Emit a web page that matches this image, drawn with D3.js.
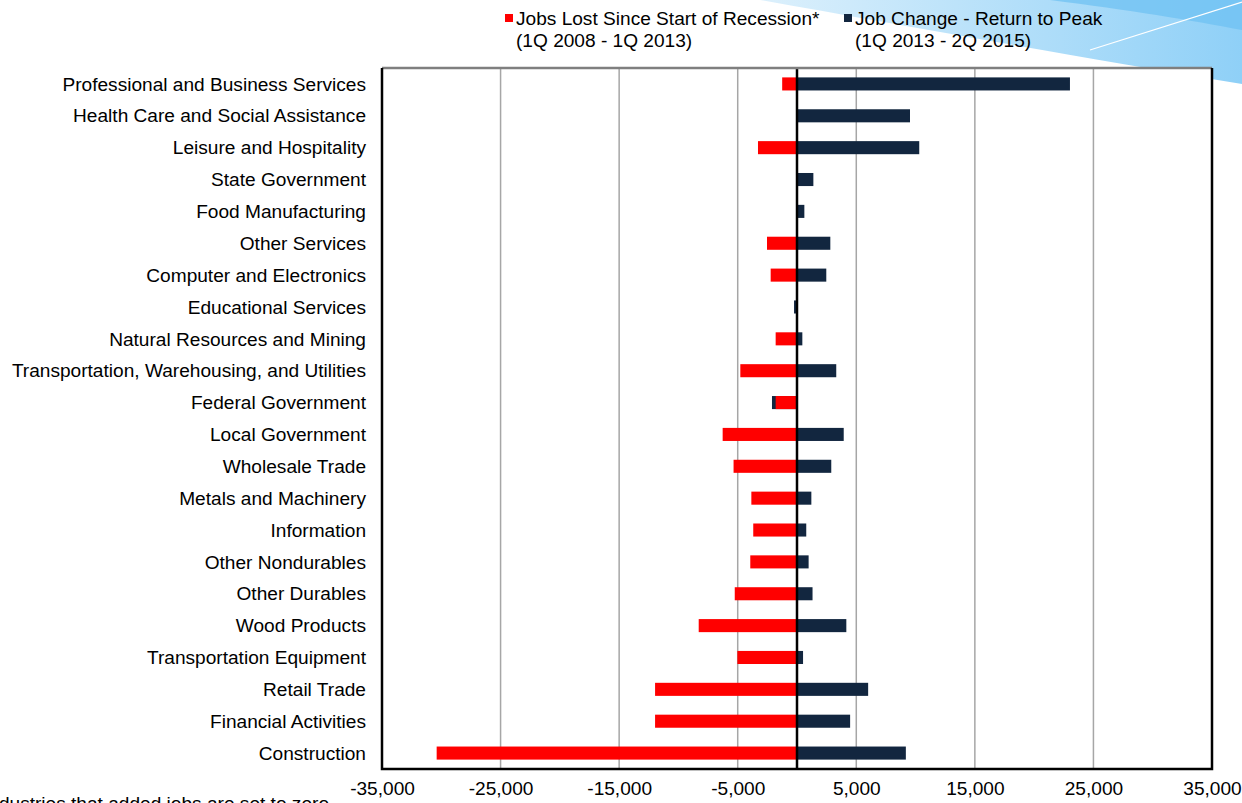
<!DOCTYPE html>
<html>
<head>
<meta charset="utf-8">
<script src="https://cdn.jsdelivr.net/npm/d3@7"></script>
<style>
  html, body { margin: 0; padding: 0; background: #fff; overflow: hidden; }
  svg { display: block; font-family: Arial, "Liberation Sans", sans-serif; }
</style>
</head>
<body>
<div id="chart"></div>
<script>
// industries, top to bottom
var industries = [
    "Professional and Business Services",
    "Health Care and Social Assistance",
    "Leisure and Hospitality",
    "State Government",
    "Food Manufacturing",
    "Other Services",
    "Computer and Electronics",
    "Educational Services",
    "Natural Resources and Mining",
    "Transportation, Warehousing, and Utilities",
    "Federal Government",
    "Local Government",
    "Wholesale Trade",
    "Metals and Machinery",
    "Information",
    "Other Nondurables",
    "Other Durables",
    "Wood Products",
    "Transportation Equipment",
    "Retail Trade",
    "Financial Activities",
    "Construction"
];

// Jobs lost since start of recession (1Q 2008 - 1Q 2013), gains set to zero
var jobsLost = [-1250, 0, -3290, 0, 0, -2530, -2220, 0, -1800, -4780, -1800, -6270,
    -5350, -3850, -3690, -3940, -5250, -8290, -5030, -11970, -11970, -30390];

// Job change - return to peak (1Q 2013 - 2Q 2015)
var jobChange = [23020, 9530, 10310, 1380, 620, 2810, 2470, -250, 450, 3310, -2110, 3940,
    2890, 1210, 780, 980, 1310, 4160, 510, 6000, 4480, 9180];

var xTicks = [-35000, -25000, -15000, -5000, 5000, 15000, 25000, 35000];

var legendItems = [
    {name: "Jobs Lost Since Start of Recession*", sub: "(1Q 2008 - 1Q 2013)", color: "#ff0000"},
    {name: "Job Change - Return to Peak", sub: "(1Q 2013 - 2Q 2015)", color: "#12263f"}
];

var W = 1242, H = 803;
var plot = {left: 382, right: 1212, top: 68, bottom: 769};
var fontSize = "19.1px";

var svg = d3.select("#chart").append("svg")
    .attr("width", W)
    .attr("height", H);

// decorative swoosh in the top right corner
var defs = svg.append("defs");
var grad = defs.append("linearGradient")
    .attr("id", "swoosh")
    .attr("x1", "0").attr("y1", "0").attr("x2", "1").attr("y2", "0");
grad.append("stop").attr("offset", "0").attr("stop-color", "#dcf0fc");
grad.append("stop").attr("offset", "1").attr("stop-color", "#8fd0f7");

svg.append("path")
    .attr("d", "M760,0 C900,25 1050,52 1242,84 L1242,0 Z")
    .attr("fill", "url(#swoosh)");
svg.append("path")
    .attr("d", "M1050,0 C1130,10 1190,20 1242,30 L1242,0 Z")
    .attr("fill", "#6cc0f2")
    .attr("opacity", 0.7);
svg.append("path")
    .attr("d", "M1090,50 L1242,2")
    .attr("stroke", "#ffffff")
    .attr("stroke-width", 1.2)
    .attr("fill", "none");

var x = d3.scaleLinear()
    .domain([-35000, 35000])
    .range([plot.left, plot.right]);

var y = d3.scaleBand()
    .domain(industries)
    .range([plot.top, plot.bottom]);

var barH = y.bandwidth() * 0.41;

svg.append("rect")
    .attr("x", plot.left).attr("y", plot.top)
    .attr("width", plot.right - plot.left)
    .attr("height", plot.bottom - plot.top)
    .attr("fill", "#ffffff");

// gridlines
svg.append("g")
    .selectAll("line")
    .data(xTicks.slice(1, -1))
    .enter()
    .append("line")
    .attr("x1", d => x(d)).attr("x2", d => x(d))
    .attr("y1", plot.top).attr("y2", plot.bottom)
    .attr("stroke", "#a6a6a6")
    .attr("stroke-width", 1.5);

// job change bars (drawn first, red sits on top)
svg.append("g")
    .selectAll("rect")
    .data(jobChange)
    .enter()
    .append("rect")
    .attr("x", d => x(Math.min(0, d)))
    .attr("width", d => Math.abs(x(d) - x(0)))
    .attr("y", (d, i) => y(industries[i]) + (y.bandwidth() - barH) / 2)
    .attr("height", barH)
    .attr("fill", "#12263f");

svg.append("g")
    .selectAll("rect")
    .data(jobsLost)
    .enter()
    .append("rect")
    .attr("x", d => x(Math.min(0, d)))
    .attr("width", d => Math.abs(x(d) - x(0)))
    .attr("y", (d, i) => y(industries[i]) + (y.bandwidth() - barH) / 2)
    .attr("height", barH)
    .attr("fill", "#ff0000");

// zero line
svg.append("line")
    .attr("x1", x(0)).attr("x2", x(0))
    .attr("y1", plot.top).attr("y2", plot.bottom)
    .attr("stroke", "#000")
    .attr("stroke-width", 2.5);

// frame: grey top, black sides and bottom
svg.append("line")
    .attr("x1", plot.left).attr("x2", plot.right)
    .attr("y1", plot.top).attr("y2", plot.top)
    .attr("stroke", "#7f7f7f").attr("stroke-width", 2.5);
svg.append("path")
    .attr("d", "M" + plot.left + "," + plot.top + "V" + plot.bottom + "H" + plot.right + "V" + plot.top)
    .attr("fill", "none")
    .attr("stroke", "#000")
    .attr("stroke-width", 2.5);

// category labels
svg.append("g")
    .selectAll("text")
    .data(industries)
    .enter()
    .append("text")
    .attr("x", 366)
    .attr("y", d => y(d) + y.bandwidth() / 2)
    .attr("dy", "0.35em")
    .attr("text-anchor", "end")
    .attr("font-size", fontSize)
    .attr("fill", "#000")
    .text(d => d);

// x axis (plain hyphen for negatives, like the original)
var fmt = d3.format(",");
var xAxis = svg.append("g")
    .attr("transform", "translate(0," + (plot.bottom + 9) + ")")
    .call(d3.axisBottom(x).tickValues(xTicks).tickSize(0)
        .tickFormat(d => fmt(d).replace("\u2212", "-")));
xAxis.select(".domain").remove();
xAxis.selectAll("text")
    .attr("font-size", fontSize)
    .attr("font-family", "Arial, 'Liberation Sans', sans-serif")
    .attr("fill", "#000");

// legend
var legendX = [505, 844];
var lg = svg.append("g")
    .selectAll("g")
    .data(legendItems)
    .enter()
    .append("g")
    .attr("transform", (d, i) => "translate(" + legendX[i] + ",0)");
lg.append("rect")
    .attr("x", 0).attr("y", 14)
    .attr("width", 8).attr("height", 8)
    .attr("fill", d => d.color);
lg.append("text")
    .attr("x", 11).attr("y", 25)
    .attr("font-size", fontSize)
    .text(d => d.name);
lg.append("text")
    .attr("x", 11).attr("y", 47)
    .attr("font-size", fontSize)
    .text(d => d.sub);

// footnote, clipped at the left and bottom edges as in the original
svg.append("text")
    .attr("x", 329)
    .attr("y", 810)
    .attr("text-anchor", "end")
    .attr("font-size", fontSize)
    .text("*Industries that added jobs are set to zero");
</script>
</body>
</html>
